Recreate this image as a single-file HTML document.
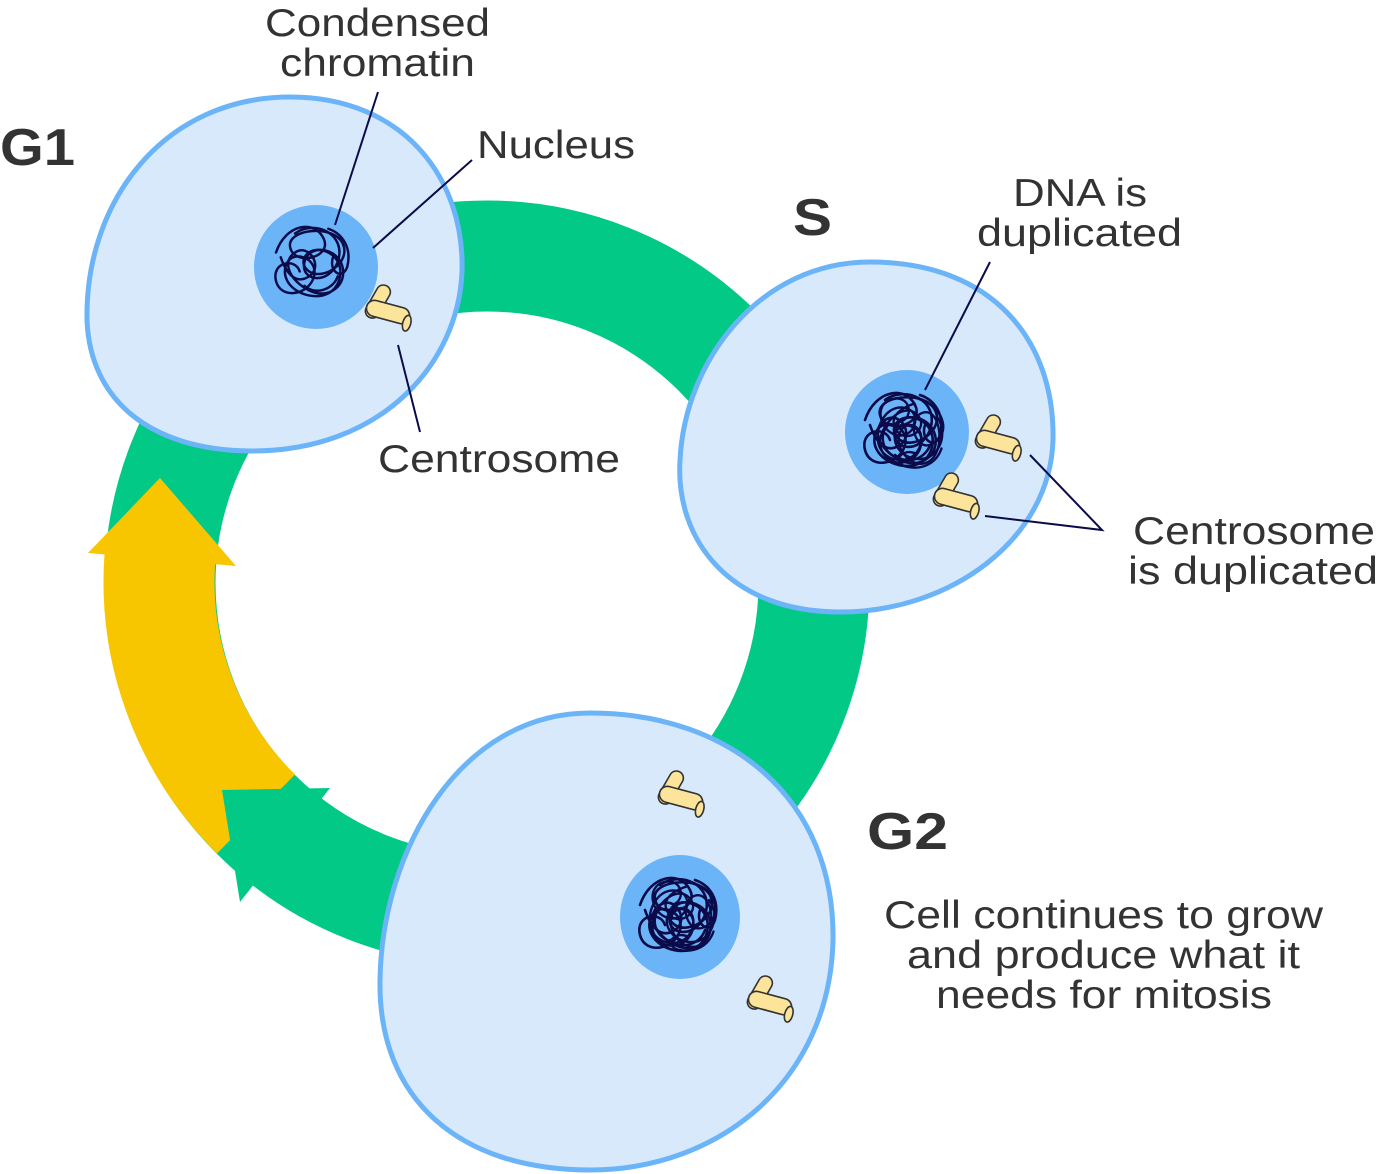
<!DOCTYPE html>
<html><head><meta charset="utf-8"><style>
html,body{margin:0;padding:0;background:#fff;}
svg{display:block;font-family:"Liberation Sans",Arial,sans-serif;}
.lbl{font-size:39px;fill:#333;}
.hd{font-size:52px;font-weight:bold;fill:#333;}
.cell{fill:#d8e9fc;stroke:#6cb4f8;stroke-width:5;}
.nuc{fill:#6cb4f8;}
.chr{fill:none;stroke:#0b0b4a;stroke-width:2.6;stroke-linejoin:round;stroke-linecap:round;}
.ptr{stroke:#0b0b4a;stroke-width:2;fill:none;}
.cy{fill:#fce59a;stroke:#333;stroke-width:1.6;}
</style></head><body>
<svg width="1380" height="1174" viewBox="0 0 1380 1174">
<defs>
<g id="centro">
<rect class="cy" x="-22" y="-8" width="44" height="16" rx="8" transform="rotate(15)"/>
<g transform="rotate(-60) translate(4,-14)"><rect class="cy" x="-18" y="-7" width="36" height="14" rx="7"/></g>
<rect class="cy" x="-22" y="-8" width="44" height="16" rx="8" transform="rotate(15)"/>
<ellipse class="cy" cx="21" cy="6" rx="4" ry="8" transform="rotate(15)"/>
</g>
<g id="chrom">
<path class="chr" d="M-40,-10 C-30,-40 0,-45 10,-25 C20,-5 -20,5 -25,-15 C-30,-35 20,-40 30,-20 C40,0 10,20 -5,10 C-20,0 -5,-20 15,-10 C35,0 30,30 10,35 C-10,40 -35,25 -30,5 C-25,-15 5,-5 0,15 C-5,35 -35,40 -40,20 C-45,0 -20,-5 -15,10"/>
<path class="chr" d="M-20,-30 C0,-45 35,-30 25,0 C15,25 -15,20 -10,0 C-5,-20 25,-15 30,5 C35,25 15,40 -5,30 C-25,20 -35,0 -20,-10 C-5,-20 10,5 -5,15 C-20,25 -30,10 -35,-5"/>
<path class="chr" d="M15,-35 C30,-30 40,-15 35,5 C30,20 15,10 20,-5 M-10,25 C0,35 20,30 25,15"/>
</g>
</defs>

<circle cx="487" cy="583" r="327" fill="none" stroke="#03c986" stroke-width="111"/>
<path d="M 256 814 A 327 327 0 0 1 160 556" fill="none" stroke="#f8c600" stroke-width="111"/>
<polygon points="88,553 236,566 160,478" fill="#f8c600"/>
<polygon points="222,790 330,788 240,902" fill="#03c986"/>

<g>
<path class="cell" d="M 290 97 C 405 97 465 180 462 272 C 458 365 380 452 250 451 C 150 450 90 400 87 320 C 85 200 165 97 290 97 Z"/>
<ellipse class="nuc" cx="316" cy="267" rx="62" ry="62"/>
<use href="#chrom" transform="translate(314,262) scale(0.95)"/>
<use href="#centro" transform="translate(388,312)"/>
</g>
<g>
<path class="cell" d="M 870 262 C 992 262 1055 340 1053 440 C 1050 540 950 612 840 612 C 730 612 675 540 680 460 C 685 360 760 262 870 262 Z"/>
<ellipse class="nuc" cx="907" cy="432" rx="62" ry="62"/>
<use href="#chrom" transform="translate(905,430)"/>
<use href="#chrom" transform="translate(910,435) rotate(90) scale(0.9)"/>
<use href="#centro" transform="translate(998,442)"/>
<use href="#centro" transform="translate(956,500)"/>
</g>
<g>
<path class="cell" d="M 590 713 C 732 713 835 800 833 940 C 830 1080 720 1170 590 1170 C 460 1170 378 1100 380 980 C 382 850 460 713 590 713 Z"/>
<ellipse class="nuc" cx="680" cy="917" rx="60" ry="62"/>
<use href="#chrom" transform="translate(680,915)"/>
<use href="#chrom" transform="translate(682,918) rotate(90) scale(0.9)"/>
<use href="#centro" transform="translate(681,798)"/>
<use href="#centro" transform="translate(770,1003)"/>
</g>

<line class="ptr" x1="378" y1="92" x2="335" y2="225"/>
<line class="ptr" x1="472" y1="160" x2="373" y2="248"/>
<line class="ptr" x1="420" y1="432" x2="398" y2="345"/>
<line class="ptr" x1="990" y1="262" x2="925" y2="390"/>
<polyline class="ptr" points="1030,455 1102,530 985,516"/>

<text class="hd" x="0" y="165" textLength="75" lengthAdjust="spacingAndGlyphs">G1</text>
<text class="hd" x="793" y="235" textLength="39" lengthAdjust="spacingAndGlyphs">S</text>
<text class="hd" x="867" y="849" textLength="81" lengthAdjust="spacingAndGlyphs">G2</text>
<text class="lbl" x="265" y="36" textLength="225" lengthAdjust="spacingAndGlyphs">Condensed</text>
<text class="lbl" x="280" y="76" textLength="195" lengthAdjust="spacingAndGlyphs">chromatin</text>
<text class="lbl" x="477" y="158" textLength="158" lengthAdjust="spacingAndGlyphs">Nucleus</text>
<text class="lbl" x="378" y="472" textLength="242" lengthAdjust="spacingAndGlyphs">Centrosome</text>
<text class="lbl" x="1013" y="206" textLength="134" lengthAdjust="spacingAndGlyphs">DNA is</text>
<text class="lbl" x="977" y="246" textLength="205" lengthAdjust="spacingAndGlyphs">duplicated</text>
<text class="lbl" x="1133" y="544" textLength="242" lengthAdjust="spacingAndGlyphs">Centrosome</text>
<text class="lbl" x="1128" y="584" textLength="250" lengthAdjust="spacingAndGlyphs">is duplicated</text>
<text class="lbl" x="884" y="928" textLength="439" lengthAdjust="spacingAndGlyphs">Cell continues to grow</text>
<text class="lbl" x="907" y="968" textLength="393" lengthAdjust="spacingAndGlyphs">and produce what it</text>
<text class="lbl" x="936" y="1008" textLength="336" lengthAdjust="spacingAndGlyphs">needs for mitosis</text>
</svg>
</body></html>
